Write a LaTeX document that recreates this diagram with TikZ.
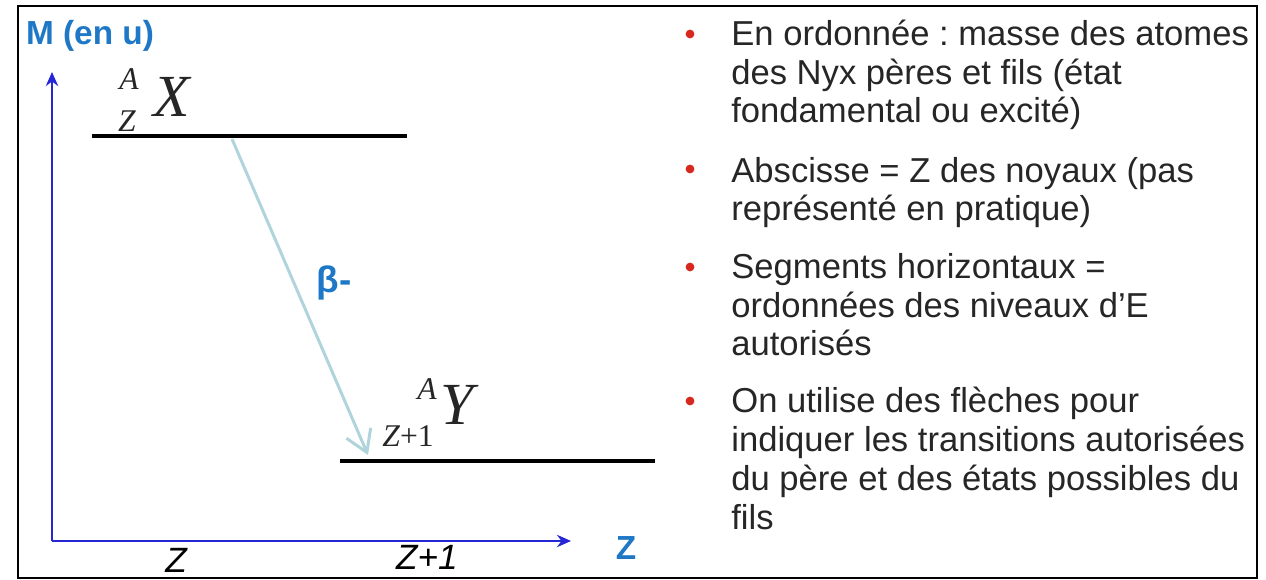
\documentclass[tikz,border=0pt]{standalone}
\usepackage{fontspec}
\setsansfont{Liberation Sans}
\newfontfamily\tmsfont{Liberation Serif}
\frenchspacing
\definecolor{decAxis} {RGB}{ 38,  38, 212}
\definecolor{decLabel}{RGB}{ 30, 120, 198}
\definecolor{decBeta} {RGB}{176, 212, 220}
\definecolor{decText} {RGB}{ 38,  38,  38}
\definecolor{decDot}  {RGB}{214,  40,  30}
\usetikzlibrary{arrows.meta}

\begin{document}
\begin{tikzpicture}[
  x=0.02cm, y=-0.02cm,
  axis/.style={-{Stealth[length=8pt,width=7pt]}, line width=1.6pt, draw=decAxis},
  level/.style={line width=2.8pt, draw=black},
  trans/.style={-{Straight Barb[length=12pt,width=15pt]}, line width=1.7pt, draw=decBeta},
  lab/.style={font=\sffamily\bfseries\fontsize{19}{22}\selectfont, text=decLabel, inner sep=0pt},
  tick/.style={font=\sffamily\itshape\fontsize{20}{22}\selectfont, text=black, inner sep=0pt},
  sym/.style={font=\tmsfont\itshape\fontsize{34}{34}\selectfont, inner sep=0pt, text=black!85},
  pre/.style={font=\tmsfont\itshape\fontsize{18}{18}\selectfont, inner sep=0pt, text=black!85},
  item/.style={anchor=base west, align=left, inner sep=0pt,
               font=\sffamily\fontsize{19.7}{22.1}\selectfont, text=decText},
  dot/.style={circle, fill=decDot, inner sep=0pt, minimum size=5pt},
]
  \useasboundingbox (0,0) rectangle (1266,580);

  % outer frame
  \draw[line width=1.6pt] (18,6) rectangle (1257,578);

  % axes
  \coordinate (o)    at (52,541);
  \coordinate (ytop) at (52,72);
  \coordinate (xend) at (571,541);
  \draw[axis] (o) -- (ytop);
  \draw[axis] (o) -- (xend);
  \node[lab]  (mlab) at (90,36)   {M (en u)};
  \node[lab]  (zlab) at (626,548) {Z};
  \node[tick] (zt)   at (176,560) {Z};
  \node[tick] (z1t)  at (427,557) {Z+1};

  % energy levels
  \coordinate (xl) at (92,136);
  \coordinate (xr) at (407,136);
  \coordinate (yl) at (340,461);
  \coordinate (yr) at (655,461);
  \draw[level] (xl) -- (xr);
  \draw[level] (yl) -- (yr);

  % parent  ^A_Z X
  \node[sym] (xsym) at (172,97)  {X};
  \node[pre] (xa)   at (129,79)  {A};
  \node[pre] (xz)   at (127,121) {Z};
  % daughter  ^A_{Z+1} Y
  \node[sym] (ysym) at (457,405) {Y};
  \node[pre] (ya)   at (427,389) {A};
  \node[pre] (yz)   at (408,436) {Z\textup{+1}};

  % beta- transition
  \coordinate (bfrom) at (232,139);
  \coordinate (bto)   at (368,455);
  \draw[trans] (bfrom) -- (bto);
  \node[lab, font=\sffamily\bfseries\fontsize{21}{24}\selectfont] (beta) at (334,283) {β-};

  % legend on the right (base = last line)
  \node[dot]  (d1) at (690,34)  {};
  \node[item] (i1) at (731,123) {En ordonnée : masse des atomes\\des Nyx pères et fils (état\\fondamental ou excité)};
  \node[dot]  (d2) at (690,169) {};
  \node[item] (i2) at (731,221) {Abscisse = Z des noyaux (pas\\représenté en pratique)};
  \node[dot]  (d3) at (690,267) {};
  \node[item] (i3) at (731,356) {Segments horizontaux =\\ordonnées des niveaux d’E\\autorisés};
  \node[dot]  (d4) at (690,401) {};
  \node[item] (i4) at (731,529) {On utilise des flèches pour\\indiquer les transitions autorisées\\du père et des états possibles du\\fils};
\end{tikzpicture}
\end{document}
